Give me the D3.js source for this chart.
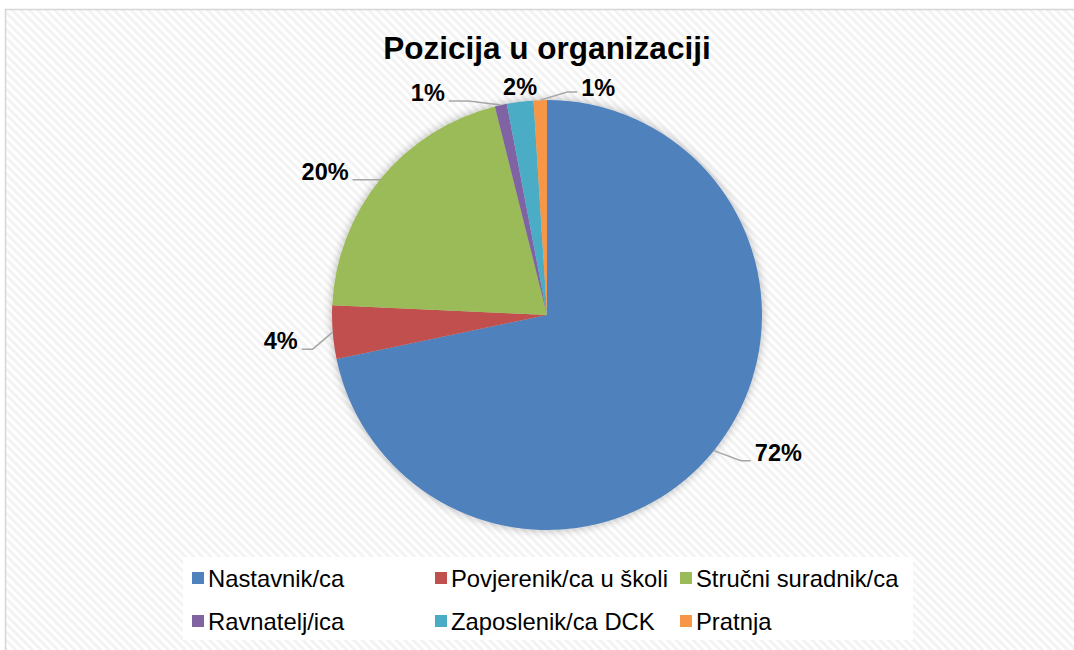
<!DOCTYPE html>
<html>
<head>
<meta charset="utf-8">
<script src="https://cdn.jsdelivr.net/npm/d3@7"></script>
<style>
  body { margin: 0; background: #fff; }
  text { font-family: "Liberation Sans", Arial, sans-serif; }
</style>
</head>
<body>
<svg id="chart" width="1074" height="650"></svg>
<script>
'use strict';

(() => {

  //data
  const categories = ['Nastavnik/ca', 'Povjerenik/ca u školi', 'Stručni suradnik/ca',
    'Ravnatelj/ica', 'Zaposlenik/ca DCK', 'Pratnja'];
  const shares = [71.8, 4.0, 20.4, 0.9, 2.0, 1.0];
  const colors = ['#4f81bd', '#c0504d', '#9bbb59', '#8064a2', '#4bacc6', '#f79646'];
  const title = 'Pozicija u organizaciji';

  //label leader layout: elbow offset from slice edge, then horizontal run
  const leaders = [
    { ex: 27, ey: 10, run: 10 },
    { ex: -20, ey: 17, run: -11 },
    { ex: -1, ey: 1, run: -27 },
    { ex: -32, ey: -4, run: -20 },
    null,
    { ex: 27, ey: -8, run: 10 }
  ];

  const W = 1074, H = 650;
  const cX = 547, cY = 315, R = 215;

  const svg = d3.select('#chart');
  const defs = svg.append('defs');

  //diagonal stripe background
  const pat = defs.append('pattern')
    .attr('id', 'stripes')
    .attr('patternUnits', 'userSpaceOnUse')
    .attr('width', 6)
    .attr('height', 6)
    .attr('patternTransform', 'rotate(-45)');
  pat.append('rect').attr('width', 6).attr('height', 6).attr('fill', '#ffffff');
  pat.append('rect').attr('width', 3).attr('height', 6).attr('fill', '#f3f3f3');

  const shadow = defs.append('filter')
    .attr('id', 'glow')
    .attr('x', '-20%').attr('y', '-20%')
    .attr('width', '140%').attr('height', '140%');
  shadow.append('feGaussianBlur').attr('in', 'SourceAlpha').attr('stdDeviation', 5).attr('result', 'b');
  shadow.append('feComponentTransfer').attr('in', 'b').attr('result', 's')
    .append('feFuncA').attr('type', 'linear').attr('slope', 0.3);
  const merge = shadow.append('feMerge');
  merge.append('feMergeNode').attr('in', 's');
  merge.append('feMergeNode').attr('in', 'SourceGraphic');

  //frame
  svg.append('rect')
    .attr('x', 5.5)
    .attr('y', 9.5)
    .attr('width', W + 20)
    .attr('height', H + 20)
    .attr('fill', 'url(#stripes)')
    .attr('stroke', '#d6d6d6')
    .attr('stroke-width', 1.5);

  //title
  svg.append('text')
    .attr('x', cX)
    .attr('y', 59)
    .attr('text-anchor', 'middle')
    .style('font-size', '31.5px')
    .style('font-weight', 'bold')
    .text(title);

  //pie
  const data = categories.map((c, i) => ({ name: c, value: shares[i], color: colors[i], i }));
  const pie = d3.pie().value((d) => d.value).sort(null);
  const arcs = pie(data);
  const arc = d3.arc().innerRadius(0).outerRadius(R);

  const g = svg.append('g').attr('transform', `translate(${cX}, ${cY})`);
  g.append('g')
    .attr('filter', 'url(#glow)')
    .selectAll('path')
    .data(arcs)
    .join('path')
    .attr('d', arc)
    .attr('fill', (d) => d.data.color);

  //labels
  const pct = (v) => `${Math.round(v)}%`;
  arcs.forEach((a, i) => {
    const mid = (a.startAngle + a.endAngle) / 2;
    const px = Math.sin(mid) * R;
    const py = -Math.cos(mid) * R;
    const l = leaders[i];
    if (l) {
      const bx = px + l.ex, by = py + l.ey;
      const endX = bx + l.run;
      g.append('polyline')
        .attr('points', `${px},${py} ${bx},${by} ${endX},${by}`)
        .attr('fill', 'none')
        .attr('stroke', '#a6a6a6')
        .attr('stroke-width', 1.5);
      const right = l.run > 0;
      g.append('text')
        .attr('x', endX + (right ? 4 : -4))
        .attr('y', by + (right && l.ey < 0 ? 4 : 0))
        .attr('text-anchor', right ? 'start' : 'end')
        .style('font-size', '23.5px')
        .style('font-weight', 'bold')
        .text(pct(a.data.value));
    } else {
      g.append('text')
        .attr('x', px)
        .attr('y', py - 7)
        .attr('text-anchor', 'middle')
        .style('font-size', '23.5px')
        .style('font-weight', 'bold')
        .text(pct(a.data.value));
    }
  });

  //legend
  const leg = svg.append('g');
  leg.append('rect')
    .attr('x', 183)
    .attr('y', 557)
    .attr('width', 730)
    .attr('height', 83)
    .attr('fill', '#ffffff');
  const colX = [192, 435, 680];
  const rowY = [572, 615];
  data.forEach((d, i) => {
    const x = colX[i % 3];
    const y = rowY[Math.floor(i / 3)];
    leg.append('rect')
      .attr('x', x)
      .attr('y', y)
      .attr('width', 12)
      .attr('height', 12)
      .attr('fill', d.color);
    leg.append('text')
      .attr('x', x + 16)
      .attr('y', y + 15)
      .style('font-size', '23.8px')
      .text(d.name);
  });

})();
</script>
</body>
</html>
